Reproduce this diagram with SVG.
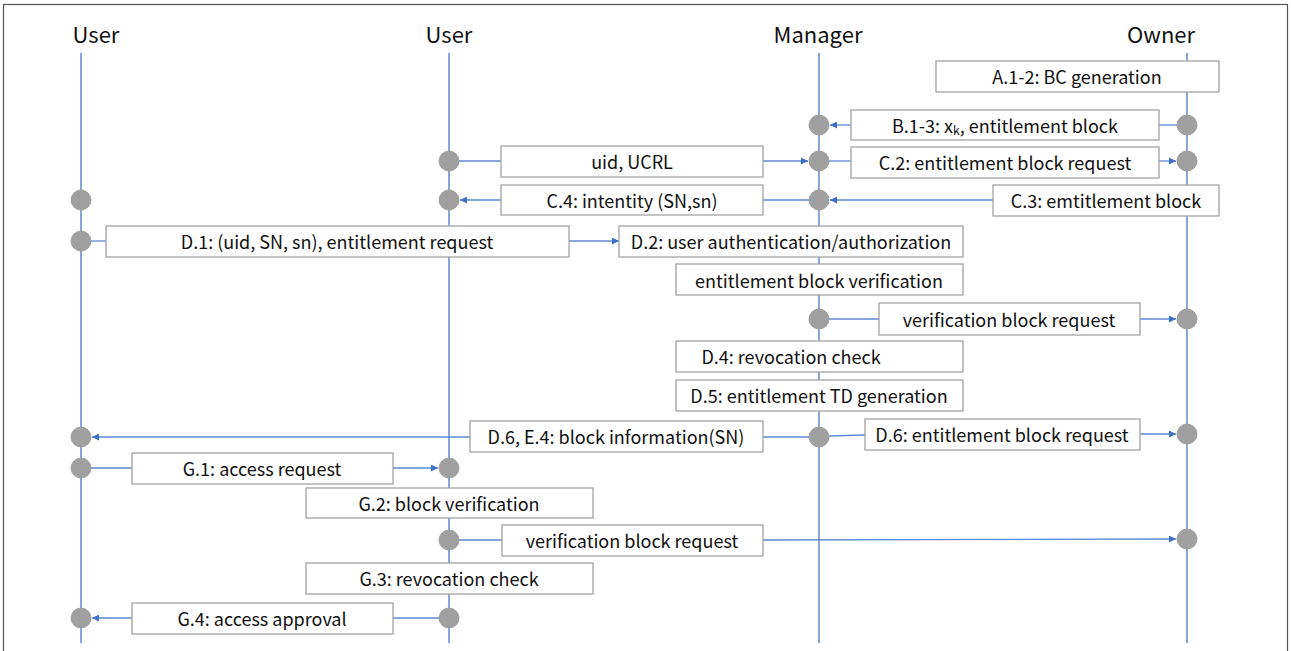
<svg xmlns="http://www.w3.org/2000/svg" width="1291" height="651" viewBox="0 0 1291 651">
  <style>
    .frame { fill: #ffffff; stroke: #555555; stroke-width: 1.2; }
    .life { stroke: #4a78cc; stroke-width: 1.3; fill: none; }
    .msg { stroke: #5b8ad6; stroke-width: 1.3; fill: none; }
    .arr { marker-end: url(#head); }
    .box { fill: #ffffff; stroke: #a3a3a3; stroke-width: 1.3; }
    .dot { fill: #a0a0a0; stroke: #969696; stroke-width: 0.8; }
    .hdr { font-family: "Noto Sans CJK KR", "Noto Sans", sans-serif; font-size: 22px; fill: #111111; text-anchor: middle; }
    .lbl { font-family: "Noto Sans CJK KR", "Noto Sans", sans-serif; font-size: 18px; fill: #111111; text-anchor: middle; dominant-baseline: central; }
  </style>
  <defs>
    <marker id="head" viewBox="0 0 10 10" refX="10" refY="5" markerWidth="8" markerHeight="7" markerUnits="userSpaceOnUse" orient="auto">
      <path d="M0,0 L10,5 L0,10 z" fill="#3f6fc9"/>
    </marker>
  </defs>

  <rect class="frame" x="3.5" y="4.5" width="1284" height="660"/>

  <!-- participants and lifelines -->
  <g id="lane-user1">
    <text class="hdr" x="96" y="43">User</text>
    <line class="life" x1="81" y1="53" x2="81" y2="643"/>
  </g>
  <g id="lane-user2">
    <text class="hdr" x="449" y="43">User</text>
    <line class="life" x1="449" y1="53" x2="449" y2="643"/>
  </g>
  <g id="lane-manager">
    <text class="hdr" x="818" y="43">Manager</text>
    <line class="life" x1="819" y1="53" x2="819" y2="643"/>
  </g>
  <g id="lane-owner">
    <text class="hdr" x="1161" y="43">Owner</text>
    <line class="life" x1="1187" y1="53" x2="1187" y2="643"/>
  </g>

  <!-- message lines -->
  <g id="connectors">
    <line class="msg" x1="1177" y1="125" x2="1159" y2="125"/>
    <line class="msg arr" x1="851" y1="125" x2="830" y2="125"/>

    <line class="msg" x1="459" y1="161" x2="501" y2="161"/>
    <line class="msg arr" x1="763" y1="161" x2="808" y2="161"/>

    <line class="msg" x1="829" y1="161" x2="851" y2="161"/>
    <line class="msg arr" x1="1159" y1="161" x2="1176" y2="161"/>

    <line class="msg arr" x1="993" y1="200" x2="830" y2="200"/>

    <line class="msg" x1="809" y1="200" x2="763" y2="200"/>
    <line class="msg arr" x1="501" y1="200" x2="460" y2="200"/>

    <line class="msg" x1="91" y1="241" x2="106" y2="241"/>
    <line class="msg arr" x1="569" y1="241" x2="619" y2="241"/>

    <line class="msg" x1="829" y1="319" x2="879" y2="319"/>
    <line class="msg arr" x1="1140" y1="319" x2="1176" y2="319"/>

    <line class="msg" x1="809" y1="437" x2="763" y2="437"/>
    <line class="msg arr" x1="470" y1="437" x2="92" y2="437"/>

    <line class="msg" x1="829" y1="436" x2="865" y2="435"/>
    <line class="msg arr" x1="1140" y1="434" x2="1176" y2="434"/>

    <line class="msg" x1="91" y1="468" x2="132" y2="468"/>
    <line class="msg arr" x1="393" y1="468" x2="438" y2="468"/>

    <line class="msg" x1="459" y1="540" x2="502" y2="540"/>
    <line class="msg arr" x1="763" y1="540" x2="1176" y2="539"/>

    <line class="msg" x1="439" y1="618" x2="393" y2="618"/>
    <line class="msg arr" x1="132" y1="618" x2="92" y2="618"/>
  </g>

  <!-- activation points -->
  <g id="points">
    <circle class="dot" cx="819" cy="125" r="10"/>
    <circle class="dot" cx="1187" cy="125" r="10"/>
    <circle class="dot" cx="449" cy="161" r="10"/>
    <circle class="dot" cx="819" cy="161" r="10"/>
    <circle class="dot" cx="1187" cy="161" r="10"/>
    <circle class="dot" cx="81" cy="200" r="10"/>
    <circle class="dot" cx="449" cy="200" r="10"/>
    <circle class="dot" cx="819" cy="200" r="10"/>
    <circle class="dot" cx="81" cy="241" r="10"/>
    <circle class="dot" cx="819" cy="319" r="10"/>
    <circle class="dot" cx="1187" cy="319" r="10"/>
    <circle class="dot" cx="81" cy="437" r="10"/>
    <circle class="dot" cx="819" cy="437" r="10"/>
    <circle class="dot" cx="1187" cy="434" r="10"/>
    <circle class="dot" cx="81" cy="468" r="10"/>
    <circle class="dot" cx="449" cy="468" r="10"/>
    <circle class="dot" cx="449" cy="540" r="10"/>
    <circle class="dot" cx="1187" cy="539" r="10"/>
    <circle class="dot" cx="81" cy="618" r="10"/>
    <circle class="dot" cx="449" cy="618" r="10"/>
  </g>

  <!-- step labels -->
  <g id="a12">
    <rect class="box" x="936" y="61" width="283" height="31"/>
    <text class="lbl" x="1077" y="76">A.1-2: BC generation</text>
  </g>
  <g id="b13">
    <rect class="box" x="851" y="110" width="308" height="30"/>
    <text class="lbl" x="1005" y="125">B.1-3: x<tspan font-size="12" dy="4">k</tspan><tspan dy="-4">, entitlement block</tspan></text>
  </g>
  <g id="uid-ucrl">
    <rect class="box" x="501" y="146" width="262" height="31"/>
    <text class="lbl" x="632" y="161">uid, UCRL</text>
  </g>
  <g id="c2">
    <rect class="box" x="851" y="147" width="308" height="31"/>
    <text class="lbl" x="1005" y="162">C.2: entitlement block request</text>
  </g>
  <g id="c4">
    <rect class="box" x="501" y="185" width="262" height="30"/>
    <text class="lbl" x="632" y="200">C.4: intentity (SN,sn)</text>
  </g>
  <g id="c3">
    <rect class="box" x="993" y="185" width="226" height="31"/>
    <text class="lbl" x="1106" y="200">C.3: emtitlement block</text>
  </g>
  <g id="d1">
    <rect class="box" x="106" y="226" width="463" height="31"/>
    <text class="lbl" x="337" y="241">D.1: (uid, SN, sn), entitlement request</text>
  </g>
  <g id="d2">
    <rect class="box" x="619" y="226" width="344" height="31"/>
    <text class="lbl" x="791" y="241">D.2: user authentication/authorization</text>
  </g>
  <g id="block-verify-m">
    <rect class="box" x="676" y="264" width="287" height="31"/>
    <text class="lbl" x="819" y="280">entitlement block verification</text>
  </g>
  <g id="vbr-m">
    <rect class="box" x="879" y="303" width="261" height="32"/>
    <text class="lbl" x="1009" y="319">verification block request</text>
  </g>
  <g id="d4">
    <rect class="box" x="676" y="341" width="287" height="31"/>
    <text class="lbl" x="791" y="356">D.4: revocation check</text>
  </g>
  <g id="d5">
    <rect class="box" x="676" y="380" width="287" height="31"/>
    <text class="lbl" x="819" y="395">D.5: entitlement TD generation</text>
  </g>
  <g id="d6-e4">
    <rect class="box" x="470" y="421" width="293" height="31"/>
    <text class="lbl" x="616" y="436">D.6, E.4: block information(SN)</text>
  </g>
  <g id="d6">
    <rect class="box" x="865" y="419" width="275" height="31"/>
    <text class="lbl" x="1002" y="434">D.6: entitlement block request</text>
  </g>
  <g id="g1">
    <rect class="box" x="132" y="453" width="261" height="31"/>
    <text class="lbl" x="262" y="468">G.1: access request</text>
  </g>
  <g id="g2">
    <rect class="box" x="306" y="488" width="287" height="30"/>
    <text class="lbl" x="449" y="503">G.2: block verification</text>
  </g>
  <g id="vbr-u">
    <rect class="box" x="502" y="525" width="261" height="31"/>
    <text class="lbl" x="632" y="540">verification block request</text>
  </g>
  <g id="g3">
    <rect class="box" x="306" y="563" width="287" height="31"/>
    <text class="lbl" x="449" y="578">G.3: revocation check</text>
  </g>
  <g id="g4">
    <rect class="box" x="132" y="603" width="261" height="31"/>
    <text class="lbl" x="262" y="618">G.4: access approval</text>
  </g>
</svg>
